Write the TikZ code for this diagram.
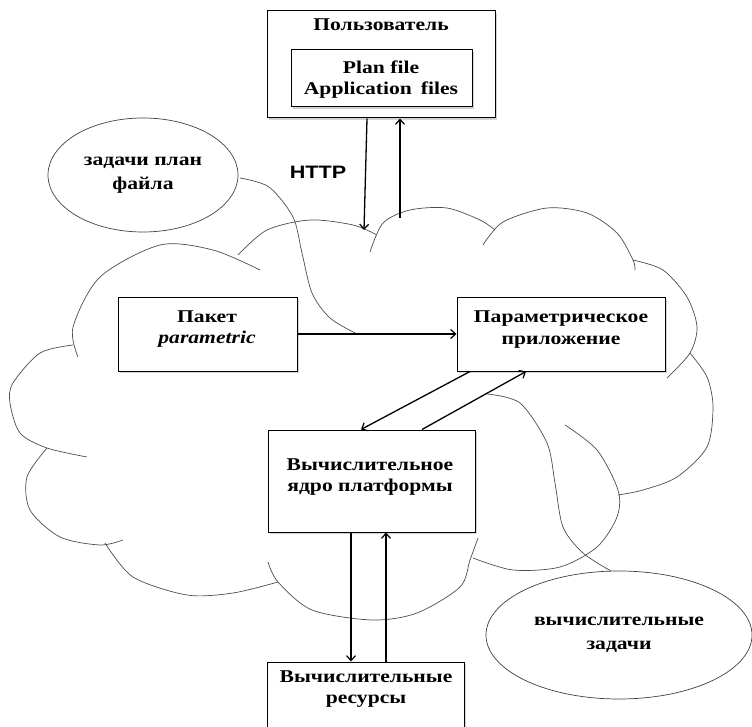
\documentclass[tikz,border=0pt]{standalone}
\usepackage{fontspec}
\setmainfont{Liberation Serif}[FakeStretch=1.2]
\newfontfamily\httpfont{Liberation Sans}[FakeStretch=1.2]
\usetikzlibrary{shapes.geometric,arrows.meta,shadows}
\begin{document}
\begin{tikzpicture}[x=1pt,y=-1pt,
  box/.style={draw=black,line width=1pt,fill=white,inner sep=0pt,
    drop shadow={shadow xshift=2pt,shadow yshift=-2pt,opacity=0.35}},
  txt/.style={anchor=base,align=center,inner sep=0pt,
    font=\fontsize{18}{21}\selectfont\bfseries},
  oval/.style={draw=black!75,line width=0.7pt,ellipse,inner sep=0pt,align=center,
    font=\fontsize{18}{24}\selectfont\bfseries},
  cloudline/.style={draw=black!70,line width=0.7pt},
  arr/.style={line width=1.3pt,-{Straight Barb[length=5pt,width=9pt,line width=1.2pt]}}
]
\useasboundingbox (0,0) rectangle (752,727);

% cloud outline
\draw[cloudline] plot[smooth] coordinates {(78,357) (73,327) (100,277) (160,245) (213,250) (260,270)};
\draw[cloudline] plot[smooth] coordinates {(238,255) (267,230) (310,220) (353,225) (377,235)};
\draw[cloudline] plot[smooth] coordinates {(370,252) (383,223) (410,210) (447,208) (480,220) (495,230)};
\draw[cloudline] plot[smooth] coordinates {(483,245) (503,222) (547,208) (587,213) (617,233) (633,260) (635,270)};
\draw[cloudline] plot[smooth] coordinates {(633,260) (663,270) (687,297) (697,327) (690,353) (667,378)};
\draw[cloudline] plot[smooth] coordinates {(690,353) (707,377) (713,407) (707,447) (677,477) (643,490) (618,495)};
\draw[cloudline] plot[smooth] coordinates {(565,425) (597,450) (618,490) (617,517) (597,547) (560,567) (513,570) (473,558)};
\draw[cloudline] plot[smooth] coordinates {(478,538) (470,560) (460,587) (417,613) (372,620) (312,610) (278,582) (268,562)};
\draw[cloudline] plot[smooth] coordinates {(278,582) (233,593) (187,595) (133,577) (105,543)};
\draw[cloudline] plot[smooth] coordinates {(123,540) (100,545) (60,537) (30,510) (27,477) (47,448)};
\draw[cloudline] plot[smooth] coordinates {(87,457) (47,448) (20,433) (10,403) (13,383) (40,353) (73,345)};

% ellipses
\node[oval,minimum width=190pt,minimum height=114pt] (e1) at (143,175) {задачи план\\файла};
\node[oval,minimum width=266pt,minimum height=128pt] (e2) at (619,635) {вычислительные\\задачи};
\draw[cloudline] plot[smooth] coordinates {(240,178) (269,187) (293,217) (302,253) (312,293) (330,318) (357,334)};
\draw[cloudline] plot[smooth] coordinates {(487,394) (520,403) (547,443) (555,483) (563,527) (583,553) (611,571)};

% boxes
\node[box,minimum width=228pt,minimum height=107pt] (user) at (381,64.5) {};
\node[box,minimum width=181pt,minimum height=57pt] (files) at (381.5,78.5) {};
\node[box,minimum width=179pt,minimum height=74pt] (paket) at (207.5,334) {};
\node[box,minimum width=208pt,minimum height=74pt] (param) at (561,334) {};
\node[box,minimum width=207pt,minimum height=102pt] (core) at (371.5,481) {};
\node[box,minimum width=197pt,minimum height=68pt] (res) at (365.5,696) {};

% texts (anchor base = baseline of the last line)
\node[txt] (tuser) at (381,31) {Пользователь};
\node[txt] (tfiles) at (381,95) {Plan file\\Application\enspace files};
\node[txt] (tpaket) at (207,343) {Пакет\\\textit{parametric}};
\node[txt] (tparam) at (561,344) {Параметрическое\\приложение};
\node[txt] (tcore) at (370,491) {Вычислительное\\ядро платформы};
\node[txt] (tres) at (366,703) {Вычислительные\\ресурсы};
\node[inner sep=0pt,font=\httpfont\fontsize{18}{21}\selectfont\bfseries] (http) at (318,172) {HTTP};

% connector end points
\coordinate (c1) at (364,230);
\coordinate (c2) at (400,218);

% arrows
\draw[arr] (user.south -| 367,0) -- (c1);
\draw[arr] (c2) -- (user.south -| 400,0);
\draw[arr] (paket.east) -- (param.west);
\draw[arr] (param.south -| 470,0) -- (core.north -| 361,0);
\draw[arr] (core.north -| 422,0) -- (param.south -| 526,0);
\draw[arr] (core.south -| 351,0) -- (res.north -| 351,0);
\draw[arr] (res.north -| 386,0) -- (core.south -| 386,0);
\end{tikzpicture}
\end{document}
